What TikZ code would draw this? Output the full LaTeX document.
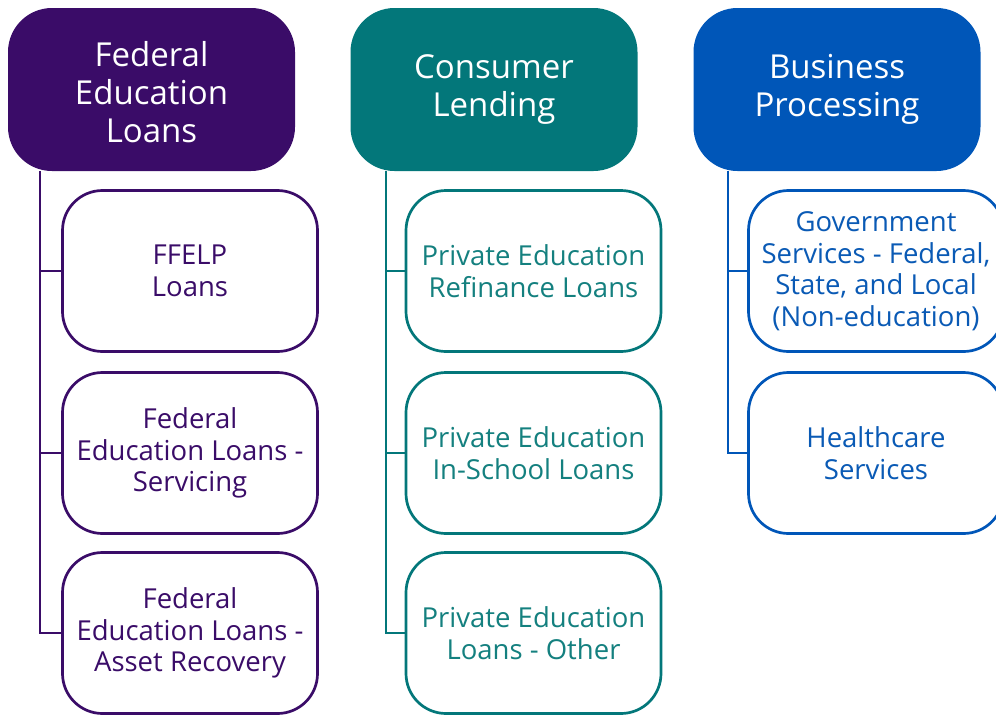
\documentclass[tikz,border=0pt]{standalone}
\usepackage{fontspec}
\setmainfont{Open Sans}
\definecolor{cpur}{HTML}{3A0C68}
\definecolor{cteal}{HTML}{03777A}
\definecolor{cblue}{HTML}{0056B8}
\definecolor{tteal}{HTML}{14807F}
\definecolor{tblue}{HTML}{0A5AB5}
\tikzset{
  head/.style={rounded corners=44pt, minimum width=287pt, minimum height=163pt, align=center, text=white, font=\fontsize{33}{38}\selectfont, inner sep=0pt},
  child/.style={rounded corners=40pt, line width=2.7pt, fill=white, minimum width=255pt, minimum height=161pt, align=center, font=\fontsize{27.5}{31.5}\selectfont, inner sep=0pt},
  conn/.style={line width=2.7pt}
}
\begin{document}
\begin{tikzpicture}[x=1pt,y=-1pt]
\useasboundingbox (0,0) rectangle (996,715);
% headers
\node[head, fill=cpur] (h1) at (151.5,89.5) {};
\node[text=white, align=center, font=\fontsize{33}{38}\selectfont, inner sep=0pt] (h1t) at (151.5,92.5) {Federal\\Education\\Loans};
\node[head, fill=cteal] (h2) at (494,89.5) {Consumer\\Lending};
\node[head, fill=cblue] (h3) at (837,89.5) {Business\\Processing};
% column 1
\node[child, draw=cpur, text=cpur] (c11) at (190,271) {FFELP\\Loans};
\node[child, draw=cpur, text=cpur] (c12) at (190,453) {Federal\\Education Loans -\\Servicing};
\node[child, draw=cpur, text=cpur] (c13) at (190,633) {Federal\\Education Loans -\\Asset Recovery};
% column 2
\node[child, draw=cteal, text=tteal] (c21) at (533.5,271) {Private Education\\Refinance Loans};
\node[child, draw=cteal, text=tteal] (c22) at (533.5,453) {Private Education\\In-School Loans};
\node[child, draw=cteal, text=tteal] (c23) at (533.5,633) {Private Education\\Loans - Other};
% column 3
\node[child, draw=cblue, text=tblue] (c31) at (876,271) {Government\\Services - Federal,\\State, and Local\\(Non-education)};
\node[child, draw=cblue, text=tblue] (c32) at (876,453) {Healthcare\\Services};
% connectors
\coordinate (t1) at (40,171);
\coordinate (t2) at (386,171);
\coordinate (t3) at (728,171);
\draw[conn, cpur] (t1) |- (c13.west);
\draw[conn, cpur] (t1 |- c11.west) -- (c11.west);
\draw[conn, cpur] (t1 |- c12.west) -- (c12.west);
\draw[conn, cteal] (t2) |- (c23.west);
\draw[conn, cteal] (t2 |- c21.west) -- (c21.west);
\draw[conn, cteal] (t2 |- c22.west) -- (c22.west);
\draw[conn, cblue] (t3) |- (c32.west);
\draw[conn, cblue] (t3 |- c31.west) -- (c31.west);
\end{tikzpicture}
\end{document}
